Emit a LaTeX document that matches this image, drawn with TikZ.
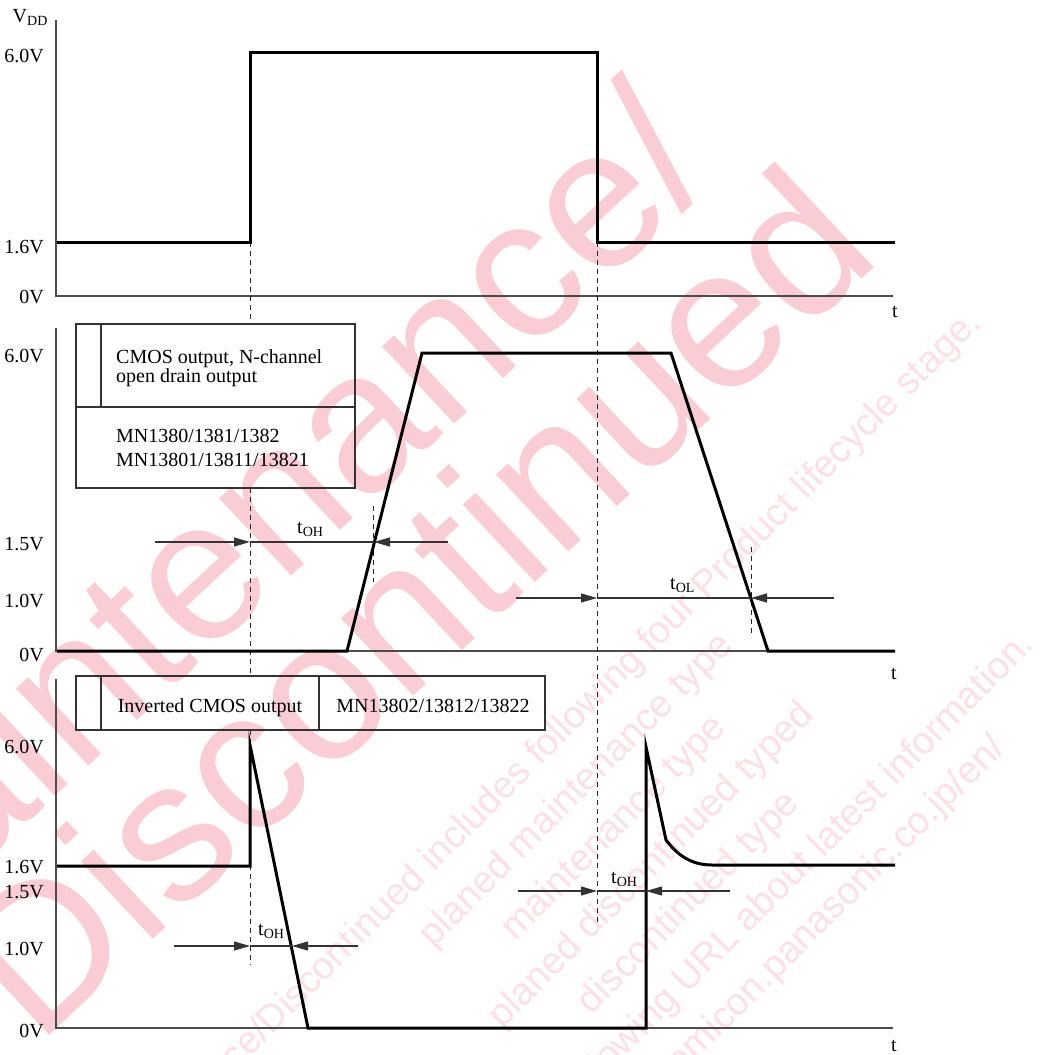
\documentclass[tikz,border=0pt]{standalone}
\usepackage{fontspec}
\setmainfont{Liberation Serif}
\newfontfamily\wmfont{Liberation Sans}
\usetikzlibrary{arrows.meta}
\definecolor{wmA}{RGB}{250,205,212}
\definecolor{wmB}{RGB}{252,224,228}
\begin{document}
\begin{tikzpicture}[x=1pt,y=-1pt,
  every node/.style={font=\fontsize{20}{24}\selectfont, inner sep=0pt},
  sig/.style={line width=3pt, line join=miter},
  axisline/.style={line width=1.2pt, black!70},
  thinline/.style={line width=1.1pt, black!80},
  boxline/.style={line width=1.2pt, black!80},
  dsh/.style={line width=1pt, black!85, dash pattern=on 5pt off 4pt},
  tip/.style={-{Triangle[length=16pt,width=9pt]}},
  lbl/.style={anchor=base east},
  wmbig/.style={text=wmA, font=\wmfont\fontsize{200}{200}\selectfont, rotate=43},
  wmsmall/.style={text=wmB, font=\wmfont\fontsize{38}{53}\selectfont, rotate=45, align=center}]
\useasboundingbox (0,0) rectangle (1042,1055);
% ---------- watermark ----------
\begin{scope}
\clip (0,0) rectangle (1042,1055);
\node[wmbig] (wm1) at (233,533) {Maintenance/};
\node[wmbig] (wm2) at (412,600) {Discontinued};
\node[wmsmall] (wm3) at (652,866) {Maintenance/Discontinued includes following four Product lifecycle stage.\\
planed maintenance type\\
maintenance type\\
planed discontinued typed\\
discontinued type\\
Please visit following URL about latest information.\\
http://www.semicon.panasonic.co.jp/en/};
\end{scope}
% ---------- coordinates ----------
\coordinate (a1t) at (56,20);  \coordinate (a1o) at (56,296); \coordinate (a1e) at (893,296);
\coordinate (a2t) at (56,328); \coordinate (a2o) at (56,651); \coordinate (a2e) at (893,651);
\coordinate (a3t) at (56,679); \coordinate (a3o) at (56,1028); \coordinate (a3e) at (893,1028);
% ---------- axes ----------
\draw[axisline] (a1t) -- (a1o) -- (a1e);
\draw[axisline] (a2t) -- (a2o) -- (a2e);
\draw[axisline] (a3t) -- (a3o) -- (a3e);
% ---------- dashed reference lines ----------
\draw[dsh] (250,242) -- (250,324);
\draw[dsh] (250,488) -- (250,676);
\draw[dsh] (250,730) -- (250,965);
\draw[dsh] (597,242) -- (597,925);
\draw[dsh] (373,506) -- (373,582);
\draw[dsh] (751,547) -- (751,635);
% ---------- signals ----------
\draw[sig] (57,242) -- (250,242) -- (250,52) -- (597,52) -- (597,242) -- (895,242);
\draw[sig] (57,651) -- (347,651) -- (422,353) -- (671,353) -- (768,651) -- (895,651);
\draw[sig] (57,866) -- (250,866) -- (250,745) -- (308,1028) -- (646,1028) -- (646,747)
   -- (666,840) .. controls (678,856) and (692,865) .. (712,865) -- (895,865);
% ---------- boxes ----------
\draw[boxline] (76,324) rectangle (355,488);
\draw[boxline] (101,324) -- (101,407);
\draw[boxline] (76,407) -- (355,407);
\node[anchor=base west] (b1a) at (116,363) {CMOS output, N-channel};
\node[anchor=base west] (b1b) at (116,382.5) {open drain output};
\node[anchor=base west] (b1c) at (116,442) {MN1380/1381/1382};
\node[anchor=base west] (b1d) at (116,466) {MN13801/13811/13821};
\draw[boxline] (76,676) rectangle (545,730);
\draw[boxline] (101,676) -- (101,730);
\draw[boxline] (319,676) -- (319,730);
\node[anchor=base] (b2a) at (210,712) {Inverted CMOS output};
\node[anchor=base] (b2b) at (433,712) {MN13802/13812/13822};
% ---------- axis labels ----------
\node[anchor=base west] (vdd) at (12.5,22) {V\textsubscript{DD}};
\node[lbl] (l1a) at (44,62) {6.0V};
\node[lbl] (l1b) at (44,253) {1.6V};
\node[lbl] (l1c) at (44,303) {0V};
\node[lbl] (l2a) at (44,362) {6.0V};
\node[lbl] (l2b) at (44,550) {1.5V};
\node[lbl] (l2c) at (44,607) {1.0V};
\node[lbl] (l2d) at (44,661) {0V};
\node[lbl] (l3a) at (44,753) {6.0V};
\node[lbl] (l3b) at (44,873) {1.6V};
\node[lbl] (l3c) at (44,898) {1.5V};
\node[lbl] (l3d) at (44,955) {1.0V};
\node[lbl] (l3e) at (44,1037) {0V};
\node (t1) at (895,312) {t};
\node (t2) at (894,674) {t};
\node (t3) at (894,1046) {t};
% ---------- timing arrows ----------
\coordinate (p1s) at (155,542); \coordinate (p1a) at (250,542); \coordinate (p1b) at (374,542); \coordinate (p1e) at (448,542);
\draw[thinline,tip] (p1s) -- (p1a);
\draw[thinline] (p1a) -- (p1b);
\draw[thinline,tip] (p1e) -- (p1b);
\node[anchor=base west] (toh1) at (297,533) {t\textsubscript{OH}};
\coordinate (p2s) at (516,598); \coordinate (p2a) at (597,598); \coordinate (p2b) at (751,598); \coordinate (p2e) at (834,598);
\draw[thinline,tip] (p2s) -- (p2a);
\draw[thinline] (p2a) -- (p2b);
\draw[thinline,tip] (p2e) -- (p2b);
\node[anchor=base west] (tol) at (670,589) {t\textsubscript{OL}};
\coordinate (p3s) at (174,946); \coordinate (p3a) at (250,946); \coordinate (p3b) at (292,946); \coordinate (p3e) at (358,946);
\draw[thinline,tip] (p3s) -- (p3a);
\draw[thinline] (p3a) -- (p3b);
\draw[thinline,tip] (p3e) -- (p3b);
\node[anchor=base west] (toh2) at (258,935) {t\textsubscript{OH}};
\coordinate (p4s) at (518,891); \coordinate (p4a) at (597,891); \coordinate (p4b) at (646,891); \coordinate (p4e) at (730,891);
\draw[thinline,tip] (p4s) -- (p4a);
\draw[thinline] (p4a) -- (p4b);
\draw[thinline,tip] (p4e) -- (p4b);
\node[anchor=base west] (toh3) at (611,883) {t\textsubscript{OH}};
\end{tikzpicture}
\end{document}
